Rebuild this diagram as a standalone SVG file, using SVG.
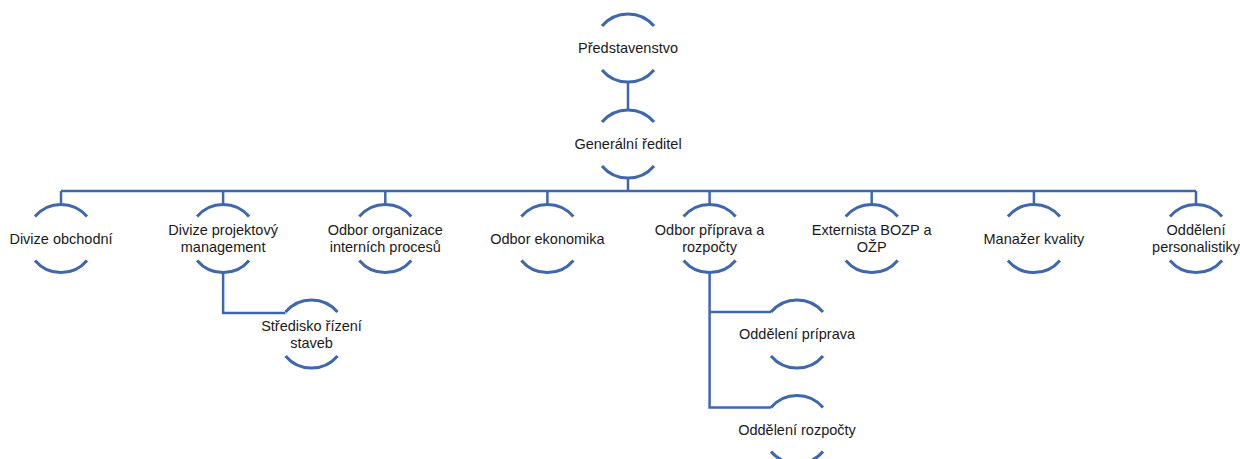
<svg xmlns="http://www.w3.org/2000/svg" width="1240" height="459" viewBox="0 0 1240 459">
<style>
.arc{fill:none;stroke:#3F67AE;stroke-width:3}
.con{fill:none;stroke:#3F67AE;stroke-width:2.5}
text{font-family:"Liberation Sans",Arial,sans-serif;font-size:14.5px;fill:#1a1a1a;text-anchor:middle}
</style>
<defs>
<path id="c" class="arc" d="M-26,-22 A34,34 0 0 1 26,-22 M-26,22 A34,34 0 0 0 26,22"/>
</defs>
<rect width="1240" height="459" fill="#ffffff"/>
<g id="connectors">
<path class="con" d="M628,82 V110"/>
<path class="con" d="M628,178 V191"/>
<path class="con" d="M61,191 H1196"/>
<path class="con" d="M61,191 V204.5 M223.1,191 V204.5 M385.3,191 V204.5 M547.4,191 V204.5 M709.6,191 V204.5 M871.7,191 V204.5 M1033.9,191 V204.5 M1196,191 V204.5"/>
<path class="con" d="M223.1,272.5 V313 H285.5"/>
<path class="con" d="M709.6,272.5 V407.5 H771 M709.6,312 H771"/>
</g>
<g id="n-predstavenstvo" transform="translate(628,48)"><use href="#c"/><text y="5">Představenstvo</text></g>
<g id="n-generalni" transform="translate(628,144)"><use href="#c"/><text y="5">Generální ředitel</text></g>
<g id="n-obchodni" transform="translate(61,238.5)"><use href="#c"/><text y="5">Divize obchodní</text></g>
<g id="n-projektovy" transform="translate(223.1,238.5)"><use href="#c"/><text y="-3.5">Divize projektový</text><text y="13.5">management</text></g>
<g id="n-organizace" transform="translate(385.3,238.5)"><use href="#c"/><text y="-3.5">Odbor organizace</text><text y="13.5">interních procesů</text></g>
<g id="n-ekonomika" transform="translate(547.4,238.5)"><use href="#c"/><text y="5">Odbor ekonomika</text></g>
<g id="n-priprava" transform="translate(709.6,238.5)"><use href="#c"/><text y="-3.5">Odbor příprava a</text><text y="13.5">rozpočty</text></g>
<g id="n-bozp" transform="translate(871.7,238.5)"><use href="#c"/><text y="-3.5">Externista BOZP a</text><text y="13.5">OŽP</text></g>
<g id="n-kvalita" transform="translate(1033.9,238.5)"><use href="#c"/><text y="5">Manažer kvality</text></g>
<g id="n-personalistika" transform="translate(1196,238.5)"><use href="#c"/><text y="-3.5">Oddělení</text><text y="13.5">personalistiky</text></g>
<g id="n-stredisko" transform="translate(311.5,334)"><use href="#c"/><text y="-3.5">Středisko řízení</text><text y="13.5">staveb</text></g>
<g id="n-odd-priprava" transform="translate(797,334)"><use href="#c"/><text y="5">Oddělení príprava</text></g>
<g id="n-odd-rozpocty" transform="translate(797,429.5)"><use href="#c"/><text y="5">Oddělení rozpočty</text></g>
</svg>
